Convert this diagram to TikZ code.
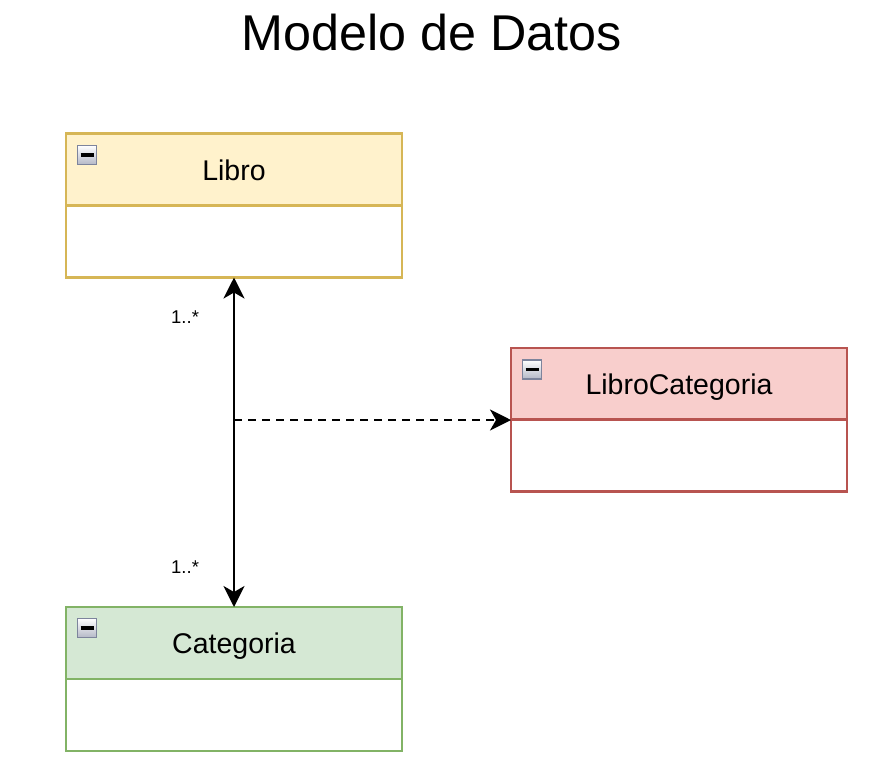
\documentclass[tikz,border=0pt]{standalone}
\usepackage{fontspec}
\setmainfont{Liberation Sans}
\usetikzlibrary{arrows.meta}
\definecolor{yfill}{HTML}{FFF2CC}
\definecolor{ystroke}{HTML}{D6B656}
\definecolor{rfill}{HTML}{F8CECC}
\definecolor{rstroke}{HTML}{B85450}
\definecolor{gfill}{HTML}{D5E8D4}
\definecolor{gstroke}{HTML}{82B366}
\definecolor{iconedge}{HTML}{7D849C}
\definecolor{iconlow}{HTML}{B4B8C6}
\begin{document}
\begin{tikzpicture}[x=1pt,y=-1pt,
  hdr/.style={draw, line width=2.2pt, minimum width=336pt, minimum height=72pt, inner sep=0pt, outer sep=0pt},
  bdy/.style={draw, line width=2.2pt, fill=white, minimum width=336pt, minimum height=72pt, inner sep=0pt, outer sep=0pt},
  ttl/.style={font=\fontsize{28.5}{30}\selectfont, anchor=base, inner sep=0pt},
  mult/.style={font=\fontsize{18.5}{20}\selectfont, anchor=base west, inner sep=0pt},
  icon/.style={draw=iconedge, line width=1.8pt, top color=white, bottom color=iconlow, minimum size=19pt, inner sep=0pt, outer sep=0pt},
  conn/.style={line width=2.4pt, >={Stealth[length=21pt, width=21pt, inset=6pt]}}]
\useasboundingbox (0,0) rectangle (876,761);

\node[font=\fontsize{50.3}{55}\selectfont, anchor=base, inner sep=0pt] (title) at (431.5,50) {Modelo de Datos};

% Libro
\node[hdr, draw=ystroke, fill=yfill] (libroH) at (234,169.5) {};
\node[bdy, draw=ystroke] (libroB) at (234,241.5) {};
\node[ttl] (libroT) at (234,180.5) {Libro};
\node[icon] (libroI) at (87,155) {\rule{13pt}{3.2pt}};

% LibroCategoria
\node[hdr, draw=rstroke, fill=rfill] (lcH) at (679,384) {};
\node[bdy, draw=rstroke] (lcB) at (679,455.5) {};
\node[ttl] (lcT) at (679,394) {LibroCategoria};
\node[icon] (lcI) at (532,369.5) {\rule{13pt}{3.2pt}};

% Categoria
\node[hdr, draw=gstroke, fill=gfill] (catH) at (234,643) {};
\node[bdy, draw=gstroke] (catB) at (234,715) {};
\node[ttl] (catT) at (234,653.5) {Categoria};
\node[icon] (catI) at (87,628) {\rule{13pt}{3.2pt}};

% multiplicities
\node[mult] (m1) at (171,323) {1..*};
\node[mult] (m2) at (171,573) {1..*};

% connectors
\draw[conn, <->] (libroB.south) -- (catH.north);
\coordinate (mid) at (234,420);
\draw[conn, dash pattern=on 8pt off 6pt, ->] (mid) -- (lcH.south west);
\end{tikzpicture}
\end{document}
